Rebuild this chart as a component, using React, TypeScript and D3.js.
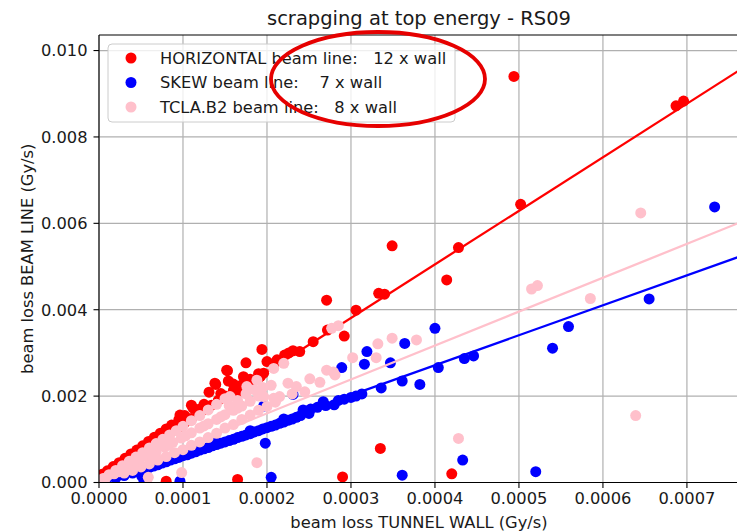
import React from 'react';
import * as d3 from 'd3';

// ==== data

const TITLE = 'scrapging at top energy - RS09';
const X_LABEL = 'beam loss TUNNEL WALL (Gy/s)';
const Y_LABEL = 'beam loss BEAM LINE (Gy/s)';

const seriesNames = [
    'HORIZONTAL beam line:   12 x wall',
    'SKEW beam line:    7 x wall',
    'TCLA.B2 beam line:   8 x wall'
];
const seriesColors = ['red', 'blue', 'pink'];

const xTicks = [0, 0.0001, 0.0002, 0.0003, 0.0004, 0.0005, 0.0006, 0.0007];
const yTicks = [0, 0.002, 0.004, 0.006, 0.008, 0.01];
const xLimits = [0, 0.000762];
const yLimits = [0, 0.01036];

// fitted lines: beam line = slope * wall + intercept
const fitSlopes = [12.4, 6.93, 7.85];
const fitIntercepts = [0.00009, -0.000056, 0.00003];

const horizontalPoints: [number, number][] = [
    [0.000494, 0.0094], [0.000687, 0.00872], [0.000696, 0.00883], [0.000502, 0.00644],
    [0.000349, 0.00548], [0.000428, 0.00544], [0.000414, 0.00469], [0.000333, 0.00438],
    [0.00034, 0.00436], [0.000306, 0.00399], [0.000271, 0.00422], [0.000272, 0.00353],
    [0.000292, 0.00339], [0.000255, 0.00326], [0.000239, 0.00303], [0.000231, 0.00305],
    [0.000221, 0.00295], [0.000226, 0.003], [0.000194, 0.00308], [0.0002, 0.0028],
    [0.000212, 0.00284], [0.000175, 0.00277], [0.000196, 0.00253], [0.000184, 0.00237],
    [0.000164, 0.00206], [0.000153, 0.00259], [0.000154, 0.00235], [0.000139, 0.00227],
    [0.000138, 0.0023], [0.000131, 0.00209], [0.000112, 0.00172], [0.00011, 0.00179],
    [0.0000964, 0.00156], [0.0000865, 0.00133], [0.000335, 0.00079], [0.00029, 0.00013],
    [0.00042, 0.0002], [0.00008, 0.00003], [0.000165, 0.00007],
    [0.000004, 0.00019], [0.00001, 0.00027], [0.000017, 0.00037], [0.000024, 0.00046],
    [0.000031, 0.00056], [0.000038, 0.00066], [0.000045, 0.00075], [0.000052, 0.00085],
    [0.000059, 0.00095], [0.000066, 0.00105], [0.000073, 0.00114], [0.00008, 0.00124],
    [0.000095, 0.00145], [0.000102, 0.00155],
    [0.000006, 0.00013], [0.000014, 0.00023], [0.000022, 0.00034], [0.00003, 0.00044],
    [0.000038, 0.00054], [0.000046, 0.00065], [0.000054, 0.00075], [0.000062, 0.00086],
    [0.00007, 0.00096], [0.000078, 0.00106], [0.000086, 0.00117], [0.000094, 0.00127],
    [0.000102, 0.00138], [0.00011, 0.00148], [0.000118, 0.00158], [0.000126, 0.00169],
    [0.000134, 0.00179], [0.000142, 0.0019], [0.00015, 0.002], [0.00016, 0.00213],
    [0.00017, 0.00226], [0.00018, 0.00239], [0.00019, 0.00252], [0.00021, 0.00278],
    [0.00012, 0.0017], [0.000125, 0.00181], [0.000145, 0.00206], [0.00016, 0.00228],
    [0.000172, 0.00245], [0.000168, 0.00214], [0.00018, 0.0023], [0.000192, 0.00245],
    [0.000152, 0.0026]
];

const skewPoints: [number, number][] = [
    [0.000733, 0.00638], [0.000655, 0.00425], [0.000559, 0.00361], [0.00054, 0.00311],
    [0.0004, 0.00357], [0.000446, 0.00293], [0.000435, 0.00287], [0.000404, 0.00266],
    [0.000382, 0.00227], [0.000361, 0.00235], [0.000336, 0.00219], [0.000364, 0.00322],
    [0.000319, 0.00303], [0.000316, 0.00274], [0.000347, 0.00277], [0.000289, 0.00266],
    [0.000292, 0.00193], [0.0003, 0.00197], [0.000306, 0.002], [0.000313, 0.00205],
    [0.000267, 0.00187], [0.000243, 0.00168], [0.000252, 0.0017], [0.00026, 0.00174],
    [0.00052, 0.00025], [0.000433, 0.00052], [0.000361, 0.00017], [0.000231, 0.00204],
    [0.000196, 0.00177], [0.000198, 0.00091], [0.000205, 0.00012], [0.0000964, 0.00003],
    [0.0000508, 0.00015], [0.0000536, 0.00004],
    [0.00002, 0.0001], [0.00003, 0.00016], [0.00004, 0.00022], [0.000045, 0.00026],
    [0.00005, 0.00029], [0.000055, 0.00031], [0.00006, 0.00035], [0.000065, 0.00038],
    [0.00007, 0.00041], [0.000075, 0.00045], [0.00008, 0.00048], [0.000085, 0.00052],
    [0.00009, 0.00055], [0.000095, 0.00058], [0.0001, 0.00062], [0.000105, 0.00064],
    [0.00011, 0.00068], [0.000115, 0.00071], [0.00012, 0.00075], [0.000125, 0.00078],
    [0.00013, 0.00081], [0.000135, 0.00085], [0.00014, 0.00088], [0.000145, 0.00091],
    [0.00015, 0.00094], [0.000155, 0.00097], [0.00016, 0.001], [0.000165, 0.00104],
    [0.00017, 0.00107], [0.000175, 0.0011], [0.00018, 0.00113], [0.000185, 0.00117],
    [0.00019, 0.0012], [0.000195, 0.00124], [0.0002, 0.00127], [0.000205, 0.0013],
    [0.00021, 0.00133], [0.000215, 0.00137], [0.00022, 0.0014], [0.000225, 0.00144],
    [0.00023, 0.00147], [0.000235, 0.00151], [0.00024, 0.00155],
    [0.00006, 0.00041], [0.0001, 0.00068], [0.00014, 0.00094], [0.00018, 0.0012],
    [0.00022, 0.00147], [0.00025, 0.0016], [0.00027, 0.00178], [0.00028, 0.0018],
    [0.000285, 0.0019]
];

const tclaPoints: [number, number][] = [
    [0.000645, 0.00624], [0.000515, 0.00448], [0.000522, 0.00456], [0.000585, 0.00426],
    [0.000639, 0.00155], [0.000428, 0.00102], [0.000378, 0.0033], [0.000349, 0.00334],
    [0.000332, 0.00321], [0.00033, 0.00289], [0.000302, 0.00289], [0.000285, 0.00363],
    [0.000277, 0.00357], [0.000251, 0.0024], [0.000263, 0.00232], [0.000271, 0.0026],
    [0.000279, 0.00256], [0.000281, 0.00249], [0.000245, 0.0021], [0.00022, 0.00276],
    [0.000208, 0.00264], [0.000188, 0.00237], [0.000176, 0.00222], [0.000156, 0.00199],
    [0.00019, 0.002], [0.000208, 0.00195], [0.000215, 0.00199], [0.000196, 0.00199],
    [0.000188, 0.00046], [0.0000984, 0.00023], [0.0000587, 0.00012],
    [0.000005, 0.000094], [0.000012, 0.00018], [0.00002, 0.00028], [0.000028, 0.00039],
    [0.000036, 0.00049], [0.000044, 0.00059], [0.000052, 0.00069], [0.00006, 0.0008],
    [0.000068, 0.0009], [0.000076, 0.001], [0.000084, 0.0011], [0.000092, 0.0012],
    [0.0001, 0.0013], [0.00011, 0.00143], [0.00012, 0.00155], [0.00013, 0.00168],
    [0.00014, 0.00181], [0.00015, 0.00194],
    [0.000008, 0.0001], [0.000018, 0.0002], [0.000028, 0.0003], [0.000038, 0.0004],
    [0.000048, 0.0005], [0.000058, 0.0006], [0.000068, 0.0007], [0.000078, 0.00082],
    [0.000088, 0.00093], [0.000098, 0.00103], [0.00011, 0.00115], [0.00012, 0.00126],
    [0.00013, 0.00136], [0.00014, 0.00146], [0.00015, 0.00157], [0.00016, 0.00167],
    [0.00017, 0.00177], [0.00018, 0.00188],
    [0.00003, 0.00022], [0.00005, 0.00036], [0.00007, 0.00052], [0.00009, 0.00069],
    [0.00011, 0.00086], [0.00013, 0.00104], [0.00015, 0.00126], [0.00017, 0.00146],
    [0.00019, 0.00167], [0.00021, 0.00186], [0.00023, 0.00205],
    [0.000024, 0.00025], [0.000043, 0.00045], [0.000063, 0.00065], [0.000083, 0.00086],
    [0.000103, 0.00108], [0.000125, 0.00131], [0.000145, 0.00152], [0.000165, 0.00172],
    [0.00004, 0.00028], [0.00006, 0.00043], [0.00008, 0.0006], [0.0001, 0.00076],
    [0.00012, 0.00094], [0.00014, 0.00114], [0.00016, 0.00134], [0.00018, 0.00156],
    [0.0002, 0.00176], [0.000155, 0.00178], [0.000165, 0.0019], [0.000175, 0.00205],
    [0.000185, 0.00215], [0.000195, 0.0022], [0.000205, 0.00225], [0.000225, 0.0023],
    [0.000235, 0.00222]
];

const seriesPoints = [horizontalPoints, skewPoints, tclaPoints];

// ====

const WIDTH = 737;
const HEIGHT = 532;
const FONT = '"DejaVu Sans", Verdana, sans-serif';
const DOT_R = 5.5;

export default function App() {
    const x = d3.scaleLinear().domain(xLimits).range([99, 739]);
    const y = d3.scaleLinear().domain(yLimits).range([482.5, 35]);
    const [x0, x1] = x.range();
    const [y0, y1] = y.range();

    const fmtX = d3.format('.4f');
    const fmtY = d3.format('.3f');

    const fitPath = (k: number) => {
        const gen = d3.line<number>()
            .x((v) => x(v))
            .y((v) => y(fitSlopes[k] * v + fitIntercepts[k]));
        return gen(xLimits) || '';
    };

    return (
        <svg width={WIDTH} height={HEIGHT}
             style={{ position: 'absolute', left: 0, top: 0, background: 'white' }}
             fontFamily={FONT}>
            <defs>
                <clipPath id="plot-area">
                    <rect x={x0} y={y1} width={x1 - x0} height={y0 - y1} />
                </clipPath>
            </defs>

            {/* grid */}
            <g stroke="#b0b0b0" strokeWidth={1.2}>
                {xTicks.map((t) => (
                    <line key={'gx' + t} x1={x(t)} x2={x(t)} y1={y0} y2={y1} />
                ))}
                {yTicks.map((t) => (
                    <line key={'gy' + t} x1={x0} x2={x1} y1={y(t)} y2={y(t)} />
                ))}
            </g>

            {/* scatter and fits */}
            <g clipPath="url(#plot-area)">
                {seriesPoints.map((pts, k) => (
                    <g key={'s' + k}>
                        {pts.map((p, i) => (
                            <circle key={i} cx={x(p[0])} cy={y(p[1])} r={DOT_R} fill={seriesColors[k]} />
                        ))}
                        <path d={fitPath(k)} stroke={seriesColors[k]} strokeWidth={2.3} fill="none" />
                    </g>
                ))}
            </g>

            {/* spines */}
            <g stroke="black" strokeWidth={1.1} fill="none">
                <line x1={x0} x2={x0} y1={y0} y2={y1} />
                <line x1={x0} x2={x1} y1={y0} y2={y0} />
                <line x1={x0} x2={x1} y1={y1} y2={y1} />
                <line x1={x1} x2={x1} y1={y0} y2={y1} />
            </g>

            {/* axes */}
            <g fontSize={16.3} fill="#1a1a1a">
                {xTicks.map((t) => (
                    <g key={'xt' + t}>
                        <line x1={x(t)} x2={x(t)} y1={y0} y2={y0 + 5.5} stroke="black" strokeWidth={1.1} />
                        <text x={x(t)} y={y0 + 21} textAnchor="middle">{fmtX(t)}</text>
                    </g>
                ))}
                {yTicks.map((t) => (
                    <g key={'yt' + t}>
                        <line x1={x0 - 5.5} x2={x0} y1={y(t)} y2={y(t)} stroke="black" strokeWidth={1.1} />
                        <text x={x0 - 11.5} y={y(t)} dy="0.36em" textAnchor="end">{fmtY(t)}</text>
                    </g>
                ))}
                <text x={(x0 + x1) / 2} y={528} textAnchor="middle">{X_LABEL}</text>
                <text transform={`translate(${27},${(y0 + y1) / 2}) rotate(-90)`} textAnchor="middle" dy="0.36em">{Y_LABEL}</text>
            </g>

            <text x={(x0 + x1) / 2} y={25} textAnchor="middle" fontSize={19.5} fill="#1a1a1a">{TITLE}</text>

            {/* legend */}
            <g>
                <rect x={108} y={44} width={347} height={78} rx={4}
                      fill="white" fillOpacity={0.8} stroke="#cccccc" strokeWidth={1} />
                {seriesNames.map((name, k) => (
                    <g key={'l' + k}>
                        <circle cx={131} cy={58 + k * 24.5} r={DOT_R} fill={seriesColors[k]} />
                        <text x={160} y={58 + k * 24.5} dy="0.36em" fontSize={16.3} fill="#1a1a1a"
                              style={{ whiteSpace: 'pre' }}>{name}</text>
                    </g>
                ))}
            </g>

            {/* hand drawn highlight */}
            <ellipse cx={378} cy={79} rx={107} ry={47} fill="none" stroke="#e60000" strokeWidth={3.8} />
        </svg>
    );
}
